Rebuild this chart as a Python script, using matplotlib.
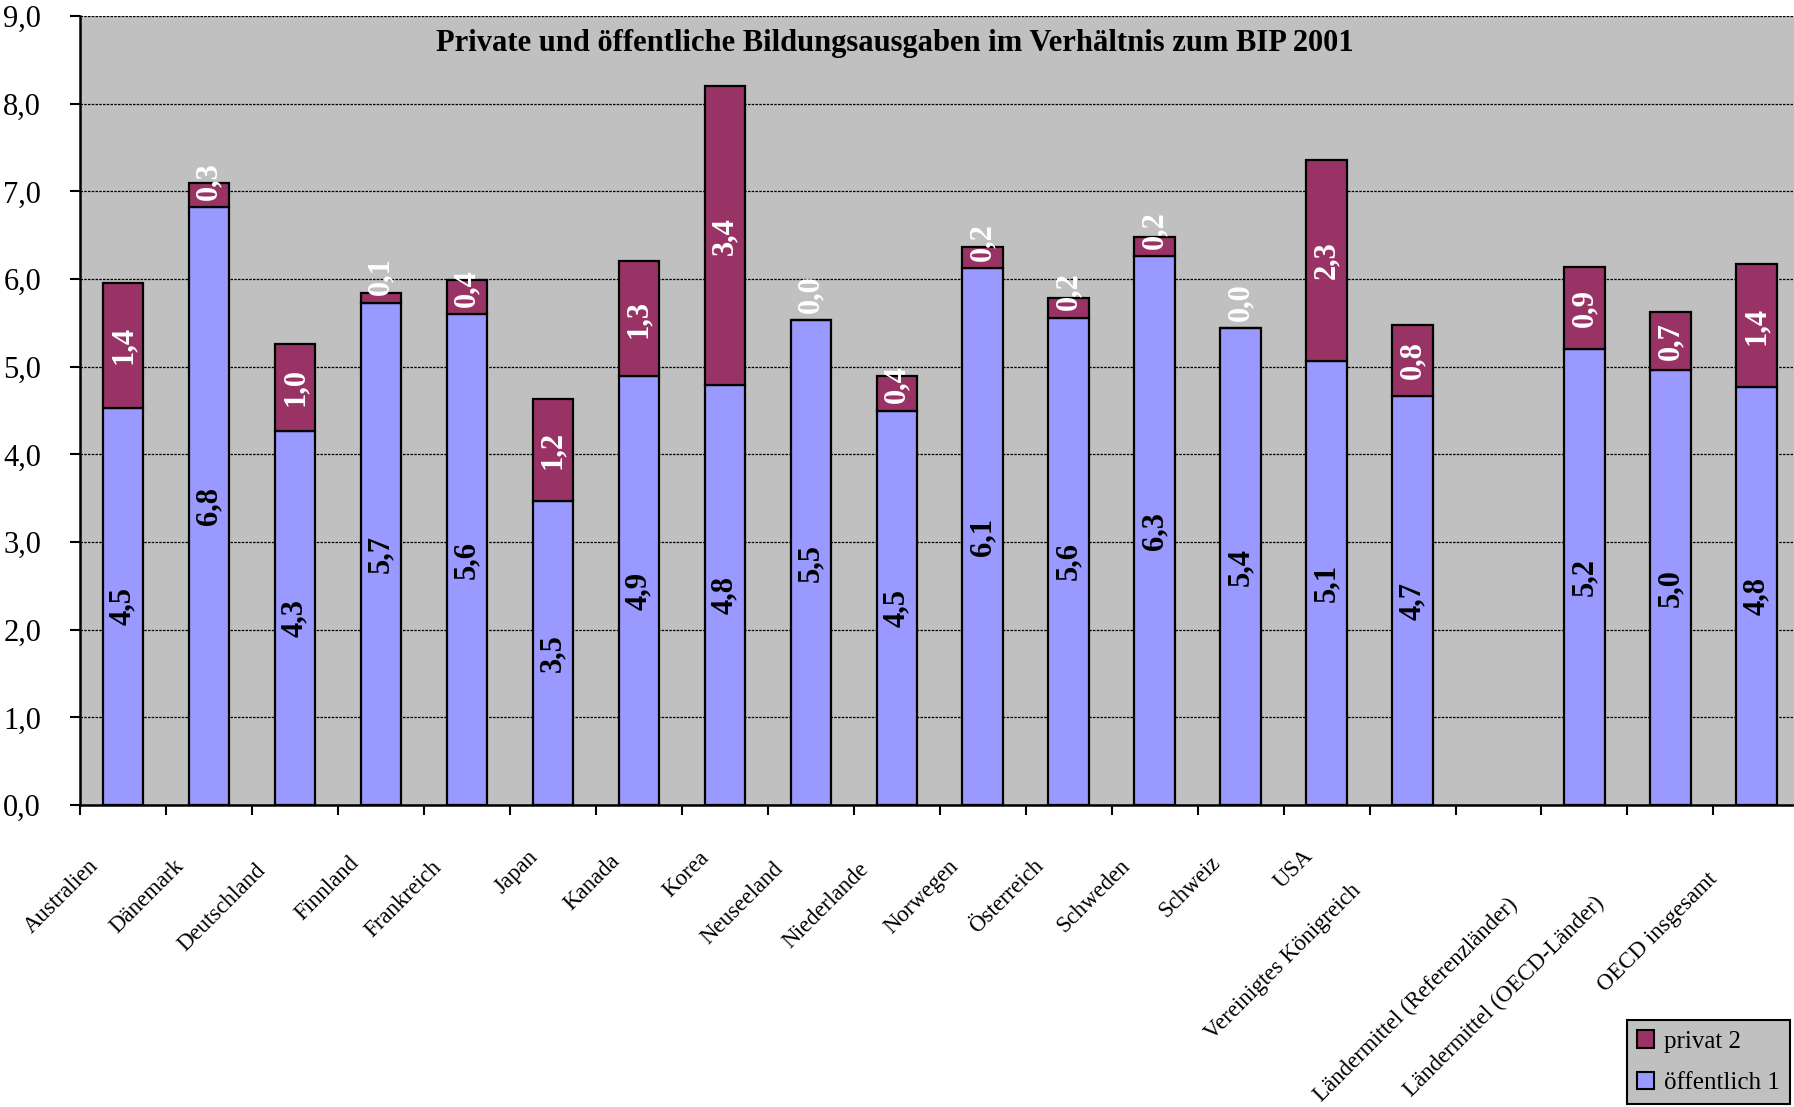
import numpy as np
import matplotlib
matplotlib.use("Agg")
import matplotlib.pyplot as plt
import matplotlib.transforms as mtransforms
from matplotlib.patches import Patch

SERIF = ["Liberation Serif", "DejaVu Serif"]

categories = ["Australien", "Dänemark", "Deutschland", "Finnland", "Frankreich",
              "Japan", "Kanada", "Korea", "Neuseeland", "Niederlande",
              "Norwegen", "Österreich", "Schweden", "Schweiz", "USA",
              "Vereinigtes Königreich", "",
              "Ländermittel (Referenzländer)", "Ländermittel (OECD-Länder)",
              "OECD insgesamt"]
oeffentlich = [4.53, 6.82, 4.27, 5.73, 5.60, 3.47, 4.89, 4.79, 5.53, 4.50,
               6.12, 5.56, 6.26, 5.44, 5.06, 4.66, np.nan, 5.20, 4.96, 4.77]
privat = [1.43, 0.28, 0.99, 0.11, 0.39, 1.16, 1.31, 3.41, 0.0, 0.39,
          0.24, 0.22, 0.22, 0.0, 2.30, 0.82, np.nan, 0.94, 0.66, 1.40]
yticks = np.arange(0, 10, 1.0)

C_PUB = "#9999FF"
C_PRIV = "#993366"
C_BG = "#C0C0C0"

fig = plt.figure(figsize=(17.94, 11.07), dpi=100)
ax = fig.add_axes([80 / 1794, 1 - 805 / 1107, 1 - 80 / 1794 + 0.003, (805 - 16) / 1107])
ax.set_facecolor(C_BG)

x = np.arange(len(categories))
pub = np.array(oeffentlich)
priv = np.array(privat)

ax.bar(x, pub, width=0.47, color=C_PUB, edgecolor="black", linewidth=1.6, zorder=3)
ax.bar(x, priv, bottom=pub, width=0.47, color=C_PRIV, edgecolor="black",
       linewidth=1.6, zorder=3)

# data labels, rotated like in the original
for xi, p, q in zip(x, pub, priv):
    if np.isnan(p):
        continue
    ax.text(xi, p / 2, f"{p:.1f}".replace(".", ","), rotation=90,
            ha="center", va="center", fontsize=22, fontweight="bold",
            family=SERIF, color="black", zorder=5)
    ymid = max(p + q / 2, p + 0.30)
    ax.text(xi, ymid, f"{q:.1f}".replace(".", ","), rotation=90,
            ha="center", va="center", fontsize=22, fontweight="bold",
            family=SERIF, color="white", zorder=5)

ax.set_xlim(-0.5, len(categories) - 0.5)
ax.set_ylim(0, 9)
ax.set_yticks(yticks)
ax.set_yticklabels([f"{v:.1f}".replace(".", ",") for v in yticks],
                   fontsize=22, family=SERIF)
ax.yaxis.grid(True, color="black", linestyle=(0, (2, 1)), linewidth=0.9)
ax.set_axisbelow(True)
ax.set_xticks(np.arange(-0.5, len(categories) + 0.5, 1.0))
ax.set_xticklabels([])
ax.tick_params(axis="both", direction="out", length=7, width=1.5, color="black")
ax.tick_params(axis="y", pad=21)

for s in ["top", "right"]:
    ax.spines[s].set_visible(False)
for s in ["left", "bottom"]:
    ax.spines[s].set_linewidth(1.8)

# category labels, placed the way Excel puts its rotated labels
fig.canvas.draw()
renderer = fig.canvas.get_renderer()
for xi, name in zip(x, categories):
    if not name:
        continue
    t = ax.text(xi, 0, name, transform=ax.get_xaxis_transform(), fontsize=16.5,
                family=SERIF)
    L = t.get_window_extent(renderer).width
    dx = (-0.23 * L - 6) / fig.dpi
    dy = -(38 + 0.21 * L) / fig.dpi
    t.set_transform(ax.get_xaxis_transform()
                    + mtransforms.ScaledTranslation(dx, dy, fig.dpi_scale_trans))
    t.set_rotation(45)
    t.set_rotation_mode("anchor")
    t.set_ha("right")
    t.set_va("center")

fig.text(895 / 1794, 1 - 44 / 1107,
         "Private und öffentliche Bildungsausgaben im Verhältnis zum BIP 2001",
         ha="center", va="center", fontsize=22, fontweight="bold", family=SERIF)

handles = [Patch(facecolor=C_PRIV, edgecolor="black", linewidth=1.5),
           Patch(facecolor=C_PUB, edgecolor="black", linewidth=1.5)]
leg = fig.legend(handles, ["privat 2", "öffentlich 1"], loc="lower right",
                 bbox_to_anchor=(1790 / 1794, 1 - 1104 / 1107),
                 borderaxespad=0, fancybox=False, framealpha=1,
                 facecolor=C_BG, edgecolor="black",
                 prop={"family": SERIF, "size": 18},
                 handlelength=0.7, handleheight=0.7, handletextpad=0.4,
                 borderpad=0.4, labelspacing=0.75)
leg.get_frame().set_linewidth(1.5)

fig.savefig("out.png", dpi=100)
